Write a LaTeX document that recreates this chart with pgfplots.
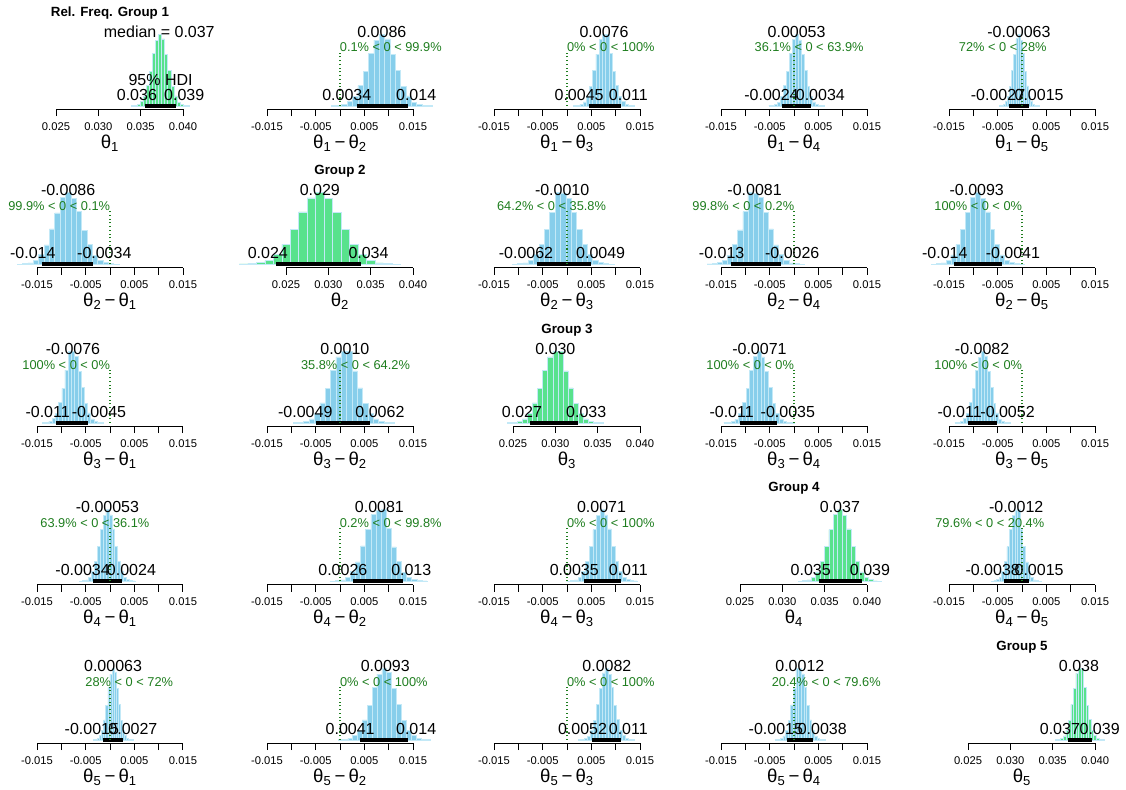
\documentclass[border=0pt]{standalone}
\usepackage{fontspec}
\setmainfont{Liberation Sans}
\usepackage{pgfplots}
\pgfplotsset{compat=1.18}

\definecolor{skyb}{RGB}{135,206,235}
\definecolor{bord}{RGB}{195,233,247}
\definecolor{grn}{RGB}{88,226,140}
\definecolor{cvcol}{RGB}{30,125,30}

\tikzset{
  lab/.style={anchor=base, inner sep=0pt, font=\fontsize{12}{14}\selectfont},
  pct/.style={anchor=base, inner sep=0pt, text=cvcol, font=\fontsize{9.6}{11}\selectfont},
  ttl/.style={anchor=base, inner sep=0pt, font=\bfseries\fontsize{10}{12}\selectfont},
  axl/.style={anchor=base, inner sep=0pt, yshift=-29.5pt, font=\fontsize{14}{16}\selectfont},
}
\newcommand\dl[2]{θ\textsubscript{#1}\,−\,θ\textsubscript{#2}}
\pgfplotsset{
  panel/.style={scale only axis, height=56.25pt, ymin=-0.042, ymax=1,
    anchor=south west, axis x line=bottom, axis y line=none, clip=false,
    x axis line style={-, line width=0.75pt},
    tick align=outside, major tick length=5.25pt,
    xtick style={line width=0.75pt, black},
    scaled x ticks=false,
    xticklabel style={anchor=base, yshift=-10.5pt, font=\fontsize{8.4}{10}\selectfont}},
  diffp/.style={panel, width=109.5pt, xmin=-0.015, xmax=0.015,
    xtick={-0.015,-0.01,-0.005,0,0.005,0.01,0.015},
    xticklabels={-0.015,,-0.005,,0.005,,0.015}},
  diagp/.style={panel, width=95.25pt, xmin=0.025, xmax=0.04,
    xtick={0.025,0.03,0.035,0.04},
    xticklabels={0.025,0.030,0.035,0.040}},
  hd/.style={ybar interval, fill=skyb, draw=bord, line width=0.4pt},
  hg/.style={ybar interval, fill=grn, draw=bord, line width=0.4pt},
  hdi/.style={black, line width=3pt, no marks},
  cmp/.style={cvcol, dotted, line width=0.8pt, no marks},
}

\begin{document}
\begin{tikzpicture}
\path (0,0) rectangle (844.5pt,-591.75pt);

% ---------- row 1 ----------
\begin{axis}[diagp, at={(42pt,-81.75pt)}]
\addplot[hg] coordinates {(0.03388,0.006) (0.03424,0.013) (0.0346,0.025) (0.03496,0.060) (0.03532,0.131) (0.03568,0.284) (0.03604,0.479) (0.0364,0.735) (0.03676,0.915) (0.03712,1.000) (0.03748,0.931) (0.03784,0.718) (0.0382,0.494) (0.03856,0.271) (0.03892,0.139) (0.03928,0.055) (0.03964,0.023) (0.04,0.011) (0.04036,0.005) (0.04072,0)};
\addplot[hdi] coordinates {(0.0355,0) (0.0392,0)};
\node[ttl] at (rel axis cs:0.425,1.235) {Rel. Freq. Group 1};
\node[lab] at (axis cs:0.0372,0.955) {median = 0.037};
\node[lab] at (axis cs:0.03735,0.28) {95\% HDI};
\node[lab] at (axis cs:0.0355,0.08) {\makebox[1.4\width][l]{0.036}};
\node[lab] at (axis cs:0.0392,0.08) {\makebox[1.4\width][r]{0.039}};
\node[axl] at (rel axis cs:0.425,0) {θ\textsubscript{1}};
\end{axis}

\begin{axis}[diffp, at={(200.25pt,-81.75pt)}]
\addplot[hd] coordinates {(-0.00185,0.006) (-0.00075,0.013) (0.00035,0.025) (0.00145,0.060) (0.00255,0.131) (0.00365,0.284) (0.00475,0.479) (0.00585,0.735) (0.00695,0.915) (0.00805,1.000) (0.00915,0.931) (0.01025,0.718) (0.01135,0.494) (0.01245,0.271) (0.01355,0.139) (0.01465,0.055) (0.01575,0.023) (0.01685,0.011) (0.01795,0.005) (0.01905,0)};
\addplot[hdi] coordinates {(0.0034,0) (0.014,0)};
\addplot[cmp] coordinates {(0,0) (0,0.74)};
\node[lab] at (axis cs:0.0086,0.955) {0.0086};
\node[pct] at (axis cs:0,0.75) {\makebox[1.998\width][r]{0.1\% < 0 < 99.9\%}};
\node[lab] at (axis cs:0.0034,0.08) {\makebox[1.4\width][l]{0.0034}};
\node[lab] at (axis cs:0.014,0.08) {\makebox[1.4\width][r]{0.014}};
\node[axl] at (rel axis cs:0.5,0) {\dl{1}{2}};
\end{axis}

\begin{axis}[diffp, at={(370.5pt,-81.75pt)}]
\addplot[hd] coordinates {(0.00133,0.005) (0.00199,0.011) (0.00265,0.023) (0.00331,0.056) (0.00397,0.140) (0.00463,0.272) (0.00529,0.495) (0.00595,0.719) (0.00661,0.930) (0.00727,0.992) (0.00793,1.000) (0.00859,0.733) (0.00925,0.480) (0.00991,0.283) (0.01057,0.130) (0.01123,0.060) (0.01189,0.025) (0.01255,0.012) (0.01321,0.007) (0.01387,0)};
\addplot[hdi] coordinates {(0.0045,0) (0.011,0)};
\addplot[cmp] coordinates {(0,0) (0,0.74)};
\node[lab] at (axis cs:0.0076,0.955) {0.0076};
\node[pct] at (axis cs:0,0.75) {\makebox[2\width][r]{0\% < 0 < 100\%}};
\node[lab] at (axis cs:0.0045,0.08) {\makebox[1.4\width][l]{0.0045}};
\node[lab] at (axis cs:0.011,0.08) {\makebox[1.4\width][r]{0.011}};
\node[axl] at (rel axis cs:0.5,0) {\dl{1}{3}};
\end{axis}

\begin{axis}[diffp, at={(540.75pt,-81.75pt)}]
\addplot[hd] coordinates {(-0.00517,0.007) (-0.00457,0.012) (-0.00397,0.026) (-0.00337,0.055) (-0.00277,0.137) (-0.00217,0.281) (-0.00157,0.483) (-0.00097,0.730) (-0.00037,0.926) (0.00023,1.000) (0.00083,0.918) (0.00143,0.722) (0.00203,0.490) (0.00263,0.275) (0.00323,0.138) (0.00383,0.057) (0.00443,0.022) (0.00503,0.013) (0.00563,0.006) (0.00623,0)};
\addplot[hdi] coordinates {(-0.0024,0) (0.0034,0)};
\addplot[cmp] coordinates {(0,0) (0,0.74)};
\node[lab] at (axis cs:0.00053,0.955) {0.00053};
\node[pct] at (axis cs:0,0.75) {\makebox[1.278\width][r]{36.1\% < 0 < 63.9\%}};
\node[lab] at (axis cs:-0.0024,0.08) {\makebox[1.4\width][l]{-0.0024}};
\node[lab] at (axis cs:0.0034,0.08) {\makebox[1.4\width][r]{0.0034}};
\node[axl] at (rel axis cs:0.5,0) {\dl{1}{4}};
\end{axis}

\begin{axis}[diffp, at={(711.75pt,-81.75pt)}]
\addplot[hd] coordinates {(-0.004715,0.006) (-0.004285,0.012) (-0.003855,0.022) (-0.003425,0.061) (-0.002995,0.133) (-0.002565,0.276) (-0.002135,0.491) (-0.001705,0.721) (-0.001275,0.934) (-0.000845,1.000) (-0.000415,0.915) (0.000015,0.731) (0.000445,0.483) (0.000875,0.280) (0.001305,0.132) (0.001735,0.059) (0.002165,0.024) (0.002595,0.010) (0.003025,0.006) (0.003455,0)};
\addplot[hdi] coordinates {(-0.0027,0) (0.0015,0)};
\addplot[cmp] coordinates {(0,0) (0,0.74)};
\node[lab] at (axis cs:-0.00063,0.955) {-0.00063};
\node[pct] at (axis cs:0,0.75) {\makebox[1.44\width][l]{72\% < 0 < 28\%}};
\node[lab] at (axis cs:-0.0027,0.08) {\makebox[1.4\width][l]{-0.0027}};
\node[lab] at (axis cs:0.0015,0.08) {\makebox[1.4\width][r]{0.0015}};
\node[axl] at (rel axis cs:0.5,0) {\dl{1}{5}};
\end{axis}

% ---------- row 2 ----------
\begin{axis}[diffp, at={(27.75pt,-200.625pt)}]
\addplot[hd] coordinates {(-0.01905,0.005) (-0.01795,0.011) (-0.01685,0.023) (-0.01575,0.055) (-0.01465,0.139) (-0.01355,0.271) (-0.01245,0.494) (-0.01135,0.718) (-0.01025,0.931) (-0.00915,1.000) (-0.00805,0.915) (-0.00695,0.735) (-0.00585,0.479) (-0.00475,0.284) (-0.00365,0.131) (-0.00255,0.060) (-0.00145,0.025) (-0.00035,0.013) (0.00075,0.006) (0.00185,0)};
\addplot[hdi] coordinates {(-0.014,0) (-0.0034,0)};
\addplot[cmp] coordinates {(0,0) (0,0.74)};
\node[lab] at (axis cs:-0.0086,0.955) {-0.0086};
\node[pct] at (axis cs:0,0.75) {\makebox[1.998\width][l]{99.9\% < 0 < 0.1\%}};
\node[lab] at (axis cs:-0.014,0.08) {\makebox[1.4\width][l]{-0.014}};
\node[lab] at (axis cs:-0.0034,0.08) {\makebox[1.4\width][r]{-0.0034}};
\node[axl] at (rel axis cs:0.5,0) {\dl{2}{1}};
\end{axis}

\begin{axis}[diagp, at={(214.5pt,-200.625pt)}]
\addplot[hg] coordinates {(0.0195,0.007) (0.0205,0.012) (0.0215,0.026) (0.0225,0.055) (0.0235,0.137) (0.0245,0.281) (0.0255,0.483) (0.0265,0.730) (0.0275,0.926) (0.0285,1.000) (0.0295,0.918) (0.0305,0.722) (0.0315,0.490) (0.0325,0.275) (0.0335,0.138) (0.0345,0.057) (0.0355,0.022) (0.0365,0.013) (0.0375,0.006) (0.0385,0)};
\addplot[hdi] coordinates {(0.0238,0) (0.0338,0)};
\node[ttl] at (rel axis cs:0.425,1.235) {Group 2};
\node[lab] at (axis cs:0.029,0.955) {0.029};
\node[lab] at (axis cs:0.0238,0.08) {\makebox[1.4\width][l]{0.024}};
\node[lab] at (axis cs:0.0338,0.08) {\makebox[1.4\width][r]{0.034}};
\node[axl] at (rel axis cs:0.425,0) {θ\textsubscript{2}};
\end{axis}

\begin{axis}[diffp, at={(370.5pt,-200.625pt)}]
\addplot[hd] coordinates {(-0.01125,0.006) (-0.01015,0.012) (-0.00905,0.021) (-0.00795,0.056) (-0.00685,0.137) (-0.00575,0.274) (-0.00465,0.488) (-0.00355,0.724) (-0.00245,1.000) (-0.00135,0.996) (-0.00025,0.920) (0.00085,0.727) (0.00195,0.486) (0.00305,0.279) (0.00415,0.136) (0.00525,0.058) (0.00635,0.024) (0.00745,0.013) (0.00855,0.005) (0.00965,0)};
\addplot[hdi] coordinates {(-0.0062,0) (0.0049,0)};
\addplot[cmp] coordinates {(0,0) (0,0.74)};
\node[lab] at (axis cs:-0.0010,0.955) {-0.0010};
\node[pct] at (axis cs:0,0.75) {\makebox[1.284\width][l]{64.2\% < 0 < 35.8\%}};
\node[lab] at (axis cs:-0.0062,0.08) {\makebox[1.4\width][l]{-0.0062}};
\node[lab] at (axis cs:0.0049,0.08) {\makebox[1.4\width][r]{0.0049}};
\node[axl] at (rel axis cs:0.5,0) {\dl{2}{3}};
\end{axis}

\begin{axis}[diffp, at={(540.75pt,-200.625pt)}]
\addplot[hd] coordinates {(-0.017875,0.007) (-0.016825,0.012) (-0.015775,0.025) (-0.014725,0.060) (-0.013675,0.130) (-0.012625,0.283) (-0.011575,0.480) (-0.010525,0.733) (-0.009475,1.000) (-0.008425,0.992) (-0.007375,0.930) (-0.006325,0.719) (-0.005275,0.495) (-0.004225,0.272) (-0.003175,0.140) (-0.002125,0.056) (-0.001075,0.023) (-0.000025,0.011) (0.001025,0.005) (0.002075,0)};
\addplot[hdi] coordinates {(-0.013,0) (-0.0026,0)};
\addplot[cmp] coordinates {(0,0) (0,0.74)};
\node[lab] at (axis cs:-0.0081,0.955) {-0.0081};
\node[pct] at (axis cs:0,0.75) {\makebox[1.996\width][l]{99.8\% < 0 < 0.2\%}};
\node[lab] at (axis cs:-0.013,0.08) {\makebox[1.4\width][l]{-0.013}};
\node[lab] at (axis cs:-0.0026,0.08) {\makebox[1.4\width][r]{-0.0026}};
\node[axl] at (rel axis cs:0.5,0) {\dl{2}{4}};
\end{axis}

\begin{axis}[diffp, at={(711.75pt,-200.625pt)}]
\addplot[hd] coordinates {(-0.0186,0.006) (-0.0176,0.012) (-0.0166,0.022) (-0.0156,0.061) (-0.0146,0.133) (-0.0136,0.276) (-0.0126,0.491) (-0.0116,0.721) (-0.0106,0.934) (-0.0096,1.000) (-0.0086,0.915) (-0.0076,0.731) (-0.0066,0.483) (-0.0056,0.280) (-0.0046,0.132) (-0.0036,0.059) (-0.0026,0.024) (-0.0016,0.010) (-0.0006,0.006) (0.0004,0)};
\addplot[hdi] coordinates {(-0.014,0) (-0.0041,0)};
\addplot[cmp] coordinates {(0,0) (0,0.74)};
\node[lab] at (axis cs:-0.0093,0.955) {-0.0093};
\node[pct] at (axis cs:0,0.75) {\makebox[2\width][l]{100\% < 0 < 0\%}};
\node[lab] at (axis cs:-0.014,0.08) {\makebox[1.4\width][l]{-0.014}};
\node[lab] at (axis cs:-0.0041,0.08) {\makebox[1.4\width][r]{-0.0041}};
\node[axl] at (rel axis cs:0.5,0) {\dl{2}{5}};
\end{axis}

% ---------- row 3 ----------
\begin{axis}[diffp, at={(27.75pt,-319.5pt)}]
\addplot[hd] coordinates {(-0.01387,0.007) (-0.01321,0.012) (-0.01255,0.025) (-0.01189,0.060) (-0.01123,0.130) (-0.01057,0.283) (-0.00991,0.480) (-0.00925,0.733) (-0.00859,1.000) (-0.00793,0.992) (-0.00727,0.930) (-0.00661,0.719) (-0.00595,0.495) (-0.00529,0.272) (-0.00463,0.140) (-0.00397,0.056) (-0.00331,0.023) (-0.00265,0.011) (-0.00199,0.005) (-0.00133,0)};
\addplot[hdi] coordinates {(-0.011,0) (-0.0045,0)};
\addplot[cmp] coordinates {(0,0) (0,0.74)};
\node[lab] at (axis cs:-0.0076,0.955) {-0.0076};
\node[pct] at (axis cs:0,0.75) {\makebox[2\width][l]{100\% < 0 < 0\%}};
\node[lab] at (axis cs:-0.011,0.08) {\makebox[1.4\width][l]{-0.011}};
\node[lab] at (axis cs:-0.0045,0.08) {\makebox[1.4\width][r]{-0.0045}};
\node[axl] at (rel axis cs:0.5,0) {\dl{3}{1}};
\end{axis}

\begin{axis}[diffp, at={(200.25pt,-319.5pt)}]
\addplot[hd] coordinates {(-0.00965,0.005) (-0.00855,0.013) (-0.00745,0.024) (-0.00635,0.058) (-0.00525,0.136) (-0.00415,0.279) (-0.00305,0.486) (-0.00195,0.727) (-0.00085,0.920) (0.00025,0.996) (0.00135,1.000) (0.00245,0.724) (0.00355,0.488) (0.00465,0.274) (0.00575,0.137) (0.00685,0.056) (0.00795,0.021) (0.00905,0.012) (0.01015,0.006) (0.01125,0)};
\addplot[hdi] coordinates {(-0.0049,0) (0.0062,0)};
\addplot[cmp] coordinates {(0,0) (0,0.74)};
\node[lab] at (axis cs:0.0010,0.955) {0.0010};
\node[pct] at (axis cs:0,0.75) {\makebox[1.284\width][r]{35.8\% < 0 < 64.2\%}};
\node[lab] at (axis cs:-0.0049,0.08) {\makebox[1.4\width][l]{-0.0049}};
\node[lab] at (axis cs:0.0062,0.08) {\makebox[1.4\width][r]{0.0062}};
\node[axl] at (rel axis cs:0.5,0) {\dl{3}{2}};
\end{axis}

\begin{axis}[diagp, at={(384.75pt,-319.5pt)}]
\addplot[hg] coordinates {(0.0243,0.005) (0.0249,0.013) (0.0255,0.024) (0.0261,0.058) (0.0267,0.136) (0.0273,0.279) (0.0279,0.486) (0.0285,0.727) (0.0291,0.920) (0.0297,0.996) (0.0303,1.000) (0.0309,0.724) (0.0315,0.488) (0.0321,0.274) (0.0327,0.137) (0.0333,0.056) (0.0339,0.021) (0.0345,0.012) (0.0351,0.006) (0.0357,0)};
\addplot[hdi] coordinates {(0.0270,0) (0.0327,0)};
\node[ttl] at (rel axis cs:0.425,1.235) {Group 3};
\node[lab] at (axis cs:0.030,0.955) {0.030};
\node[lab] at (axis cs:0.0270,0.08) {\makebox[1.4\width][l]{0.027}};
\node[lab] at (axis cs:0.0327,0.08) {\makebox[1.4\width][r]{0.033}};
\node[axl] at (rel axis cs:0.425,0) {θ\textsubscript{3}};
\end{axis}

\begin{axis}[diffp, at={(540.75pt,-319.5pt)}]
\addplot[hd] coordinates {(-0.01442,0.007) (-0.01366,0.012) (-0.0129,0.026) (-0.01214,0.055) (-0.01138,0.137) (-0.01062,0.281) (-0.00986,0.483) (-0.0091,0.730) (-0.00834,0.926) (-0.00758,1.000) (-0.00682,0.918) (-0.00606,0.722) (-0.0053,0.490) (-0.00454,0.275) (-0.00378,0.138) (-0.00302,0.057) (-0.00226,0.022) (-0.0015,0.013) (-0.00074,0.006) (0.00002,0)};
\addplot[hdi] coordinates {(-0.011,0) (-0.0035,0)};
\addplot[cmp] coordinates {(0,0) (0,0.74)};
\node[lab] at (axis cs:-0.0071,0.955) {-0.0071};
\node[pct] at (axis cs:0,0.75) {\makebox[2\width][l]{100\% < 0 < 0\%}};
\node[lab] at (axis cs:-0.011,0.08) {\makebox[1.4\width][l]{-0.011}};
\node[lab] at (axis cs:-0.0035,0.08) {\makebox[1.4\width][r]{-0.0035}};
\node[axl] at (rel axis cs:0.5,0) {\dl{3}{4}};
\end{axis}

\begin{axis}[diffp, at={(711.75pt,-319.5pt)}]
\addplot[hd] coordinates {(-0.0138,0.006) (-0.0132,0.013) (-0.0126,0.025) (-0.012,0.060) (-0.0114,0.131) (-0.0108,0.284) (-0.0102,0.479) (-0.0096,0.735) (-0.009,0.915) (-0.0084,1.000) (-0.0078,0.931) (-0.0072,0.718) (-0.0066,0.494) (-0.006,0.271) (-0.0054,0.139) (-0.0048,0.055) (-0.0042,0.023) (-0.0036,0.011) (-0.003,0.005) (-0.0024,0)};
\addplot[hdi] coordinates {(-0.011,0) (-0.0052,0)};
\addplot[cmp] coordinates {(0,0) (0,0.74)};
\node[lab] at (axis cs:-0.0082,0.955) {-0.0082};
\node[pct] at (axis cs:0,0.75) {\makebox[2\width][l]{100\% < 0 < 0\%}};
\node[lab] at (axis cs:-0.011,0.08) {\makebox[1.4\width][l]{-0.011}};
\node[lab] at (axis cs:-0.0052,0.08) {\makebox[1.4\width][r]{-0.0052}};
\node[axl] at (rel axis cs:0.5,0) {\dl{3}{5}};
\end{axis}

% ---------- row 4 ----------
\begin{axis}[diffp, at={(27.75pt,-438.375pt)}]
\addplot[hd] coordinates {(-0.00623,0.006) (-0.00563,0.013) (-0.00503,0.022) (-0.00443,0.057) (-0.00383,0.138) (-0.00323,0.275) (-0.00263,0.490) (-0.00203,0.722) (-0.00143,0.918) (-0.00083,1.000) (-0.00023,0.926) (0.00037,0.730) (0.00097,0.483) (0.00157,0.281) (0.00217,0.137) (0.00277,0.055) (0.00337,0.026) (0.00397,0.012) (0.00457,0.007) (0.00517,0)};
\addplot[hdi] coordinates {(-0.0034,0) (0.0024,0)};
\addplot[cmp] coordinates {(0,0) (0,0.74)};
\node[lab] at (axis cs:-0.00053,0.955) {-0.00053};
\node[pct] at (axis cs:0,0.75) {\makebox[1.278\width][l]{63.9\% < 0 < 36.1\%}};
\node[lab] at (axis cs:-0.0034,0.08) {\makebox[1.4\width][l]{-0.0034}};
\node[lab] at (axis cs:0.0024,0.08) {\makebox[1.4\width][r]{0.0024}};
\node[axl] at (rel axis cs:0.5,0) {\dl{4}{1}};
\end{axis}

\begin{axis}[diffp, at={(200.25pt,-438.375pt)}]
\addplot[hd] coordinates {(-0.002075,0.005) (-0.001025,0.011) (0.000025,0.023) (0.001075,0.056) (0.002125,0.140) (0.003175,0.272) (0.004225,0.495) (0.005275,0.719) (0.006325,0.930) (0.007375,0.992) (0.008425,1.000) (0.009475,0.733) (0.010525,0.480) (0.011575,0.283) (0.012625,0.130) (0.013675,0.060) (0.014725,0.025) (0.015775,0.012) (0.016825,0.007) (0.017875,0)};
\addplot[hdi] coordinates {(0.0026,0) (0.013,0)};
\addplot[cmp] coordinates {(0,0) (0,0.74)};
\node[lab] at (axis cs:0.0081,0.955) {0.0081};
\node[pct] at (axis cs:0,0.75) {\makebox[1.996\width][r]{0.2\% < 0 < 99.8\%}};
\node[lab] at (axis cs:0.0026,0.08) {\makebox[1.4\width][l]{0.0026}};
\node[lab] at (axis cs:0.013,0.08) {\makebox[1.4\width][r]{0.013}};
\node[axl] at (rel axis cs:0.5,0) {\dl{4}{2}};
\end{axis}

\begin{axis}[diffp, at={(370.5pt,-438.375pt)}]
\addplot[hd] coordinates {(-0.00002,0.006) (0.00074,0.013) (0.0015,0.022) (0.00226,0.057) (0.00302,0.138) (0.00378,0.275) (0.00454,0.490) (0.0053,0.722) (0.00606,0.918) (0.00682,1.000) (0.00758,0.926) (0.00834,0.730) (0.0091,0.483) (0.00986,0.281) (0.01062,0.137) (0.01138,0.055) (0.01214,0.026) (0.0129,0.012) (0.01366,0.007) (0.01442,0)};
\addplot[hdi] coordinates {(0.0035,0) (0.011,0)};
\addplot[cmp] coordinates {(0,0) (0,0.74)};
\node[lab] at (axis cs:0.0071,0.955) {0.0071};
\node[pct] at (axis cs:0,0.75) {\makebox[2\width][r]{0\% < 0 < 100\%}};
\node[lab] at (axis cs:0.0035,0.08) {\makebox[1.4\width][l]{0.0035}};
\node[lab] at (axis cs:0.011,0.08) {\makebox[1.4\width][r]{0.011}};
\node[axl] at (rel axis cs:0.5,0) {\dl{4}{3}};
\end{axis}

\begin{axis}[diagp, at={(555pt,-438.375pt)}]
\addplot[hg] coordinates {(0.03186,0.006) (0.03238,0.012) (0.0329,0.022) (0.03342,0.061) (0.03394,0.133) (0.03446,0.276) (0.03498,0.491) (0.0355,0.721) (0.03602,0.934) (0.03654,1.000) (0.03706,0.915) (0.03758,0.731) (0.0381,0.483) (0.03862,0.280) (0.03914,0.132) (0.03966,0.059) (0.04018,0.024) (0.0407,0.010) (0.04122,0.006) (0.04174,0)};
\addplot[hdi] coordinates {(0.0343,0) (0.0394,0)};
\node[ttl] at (rel axis cs:0.425,1.235) {Group 4};
\node[lab] at (axis cs:0.0368,0.955) {0.037};
\node[lab] at (axis cs:0.0343,0.08) {\makebox[1.4\width][l]{0.035}};
\node[lab] at (axis cs:0.0394,0.08) {\makebox[1.4\width][r]{0.039}};
\node[axl] at (rel axis cs:0.425,0) {θ\textsubscript{4}};
\end{axis}

\begin{axis}[diffp, at={(711.75pt,-438.375pt)}]
\addplot[hd] coordinates {(-0.00633,0.005) (-0.00579,0.013) (-0.00525,0.024) (-0.00471,0.058) (-0.00417,0.136) (-0.00363,0.279) (-0.00309,0.486) (-0.00255,0.727) (-0.00201,0.920) (-0.00147,0.996) (-0.00093,1.000) (-0.00039,0.724) (0.00015,0.488) (0.00069,0.274) (0.00123,0.137) (0.00177,0.056) (0.00231,0.021) (0.00285,0.012) (0.00339,0.006) (0.00393,0)};
\addplot[hdi] coordinates {(-0.0038,0) (0.0015,0)};
\addplot[cmp] coordinates {(0,0) (0,0.74)};
\node[lab] at (axis cs:-0.0012,0.955) {-0.0012};
\node[pct] at (axis cs:0,0.75) {\makebox[1.592\width][l]{79.6\% < 0 < 20.4\%}};
\node[lab] at (axis cs:-0.0038,0.08) {\makebox[1.4\width][l]{-0.0038}};
\node[lab] at (axis cs:0.0015,0.08) {\makebox[1.4\width][r]{0.0015}};
\node[axl] at (rel axis cs:0.5,0) {\dl{4}{5}};
\end{axis}

% ---------- row 5 ----------
\begin{axis}[diffp, at={(27.75pt,-557.25pt)}]
\addplot[hd] coordinates {(-0.003455,0.006) (-0.003025,0.010) (-0.002595,0.024) (-0.002165,0.059) (-0.001735,0.132) (-0.001305,0.280) (-0.000875,0.483) (-0.000445,0.731) (-0.000015,0.915) (0.000415,1.000) (0.000845,0.934) (0.001275,0.721) (0.001705,0.491) (0.002135,0.276) (0.002565,0.133) (0.002995,0.061) (0.003425,0.022) (0.003855,0.012) (0.004285,0.006) (0.004715,0)};
\addplot[hdi] coordinates {(-0.0015,0) (0.0027,0)};
\addplot[cmp] coordinates {(0,0) (0,0.74)};
\node[lab] at (axis cs:0.00063,0.955) {0.00063};
\node[pct] at (axis cs:0,0.75) {\makebox[1.44\width][r]{28\% < 0 < 72\%}};
\node[lab] at (axis cs:-0.0015,0.08) {\makebox[1.4\width][l]{-0.0015}};
\node[lab] at (axis cs:0.0027,0.08) {\makebox[1.4\width][r]{0.0027}};
\node[axl] at (rel axis cs:0.5,0) {\dl{5}{1}};
\end{axis}

\begin{axis}[diffp, at={(200.25pt,-557.25pt)}]
\addplot[hd] coordinates {(-0.0004,0.006) (0.0006,0.010) (0.0016,0.024) (0.0026,0.059) (0.0036,0.132) (0.0046,0.280) (0.0056,0.483) (0.0066,0.731) (0.0076,0.915) (0.0086,1.000) (0.0096,0.934) (0.0106,0.721) (0.0116,0.491) (0.0126,0.276) (0.0136,0.133) (0.0146,0.061) (0.0156,0.022) (0.0166,0.012) (0.0176,0.006) (0.0186,0)};
\addplot[hdi] coordinates {(0.0041,0) (0.014,0)};
\addplot[cmp] coordinates {(0,0) (0,0.74)};
\node[lab] at (axis cs:0.0093,0.955) {0.0093};
\node[pct] at (axis cs:0,0.75) {\makebox[2\width][r]{0\% < 0 < 100\%}};
\node[lab] at (axis cs:0.0041,0.08) {\makebox[1.4\width][l]{0.0041}};
\node[lab] at (axis cs:0.014,0.08) {\makebox[1.4\width][r]{0.014}};
\node[axl] at (rel axis cs:0.5,0) {\dl{5}{2}};
\end{axis}

\begin{axis}[diffp, at={(370.5pt,-557.25pt)}]
\addplot[hd] coordinates {(0.0024,0.005) (0.003,0.011) (0.0036,0.023) (0.0042,0.055) (0.0048,0.139) (0.0054,0.271) (0.006,0.494) (0.0066,0.718) (0.0072,0.931) (0.0078,1.000) (0.0084,0.915) (0.009,0.735) (0.0096,0.479) (0.0102,0.284) (0.0108,0.131) (0.0114,0.060) (0.012,0.025) (0.0126,0.013) (0.0132,0.006) (0.0138,0)};
\addplot[hdi] coordinates {(0.0052,0) (0.011,0)};
\addplot[cmp] coordinates {(0,0) (0,0.74)};
\node[lab] at (axis cs:0.0082,0.955) {0.0082};
\node[pct] at (axis cs:0,0.75) {\makebox[2\width][r]{0\% < 0 < 100\%}};
\node[lab] at (axis cs:0.0052,0.08) {\makebox[1.4\width][l]{0.0052}};
\node[lab] at (axis cs:0.011,0.08) {\makebox[1.4\width][r]{0.011}};
\node[axl] at (rel axis cs:0.5,0) {\dl{5}{3}};
\end{axis}

\begin{axis}[diffp, at={(540.75pt,-557.25pt)}]
\addplot[hd] coordinates {(-0.00393,0.006) (-0.00339,0.012) (-0.00285,0.021) (-0.00231,0.056) (-0.00177,0.137) (-0.00123,0.274) (-0.00069,0.488) (-0.00015,0.724) (0.00039,1.000) (0.00093,0.996) (0.00147,0.920) (0.00201,0.727) (0.00255,0.486) (0.00309,0.279) (0.00363,0.136) (0.00417,0.058) (0.00471,0.024) (0.00525,0.013) (0.00579,0.005) (0.00633,0)};
\addplot[hdi] coordinates {(-0.0015,0) (0.0038,0)};
\addplot[cmp] coordinates {(0,0) (0,0.74)};
\node[lab] at (axis cs:0.0012,0.955) {0.0012};
\node[pct] at (axis cs:0,0.75) {\makebox[1.592\width][r]{20.4\% < 0 < 79.6\%}};
\node[lab] at (axis cs:-0.0015,0.08) {\makebox[1.4\width][l]{-0.0015}};
\node[lab] at (axis cs:0.0038,0.08) {\makebox[1.4\width][r]{0.0038}};
\node[axl] at (rel axis cs:0.5,0) {\dl{5}{4}};
\end{axis}

\begin{axis}[diagp, at={(726pt,-557.25pt)}]
\addplot[hg] coordinates {(0.03535,0.005) (0.03565,0.011) (0.03595,0.023) (0.03625,0.056) (0.03655,0.140) (0.03685,0.272) (0.03715,0.495) (0.03745,0.719) (0.03775,0.930) (0.03805,0.992) (0.03835,1.000) (0.03865,0.733) (0.03895,0.480) (0.03925,0.283) (0.03955,0.130) (0.03985,0.060) (0.04015,0.025) (0.04045,0.012) (0.04075,0.007) (0.04105,0)};
\addplot[hdi] coordinates {(0.0368,0) (0.0396,0)};
\node[ttl] at (rel axis cs:0.425,1.235) {Group 5};
\node[lab] at (axis cs:0.0381,0.955) {0.038};
\node[lab] at (axis cs:0.0368,0.08) {\makebox[1.4\width][l]{0.037}};
\node[lab] at (axis cs:0.0396,0.08) {\makebox[1.4\width][r]{0.039}};
\node[axl] at (rel axis cs:0.425,0) {θ\textsubscript{5}};
\end{axis}

\end{tikzpicture}
\end{document}
